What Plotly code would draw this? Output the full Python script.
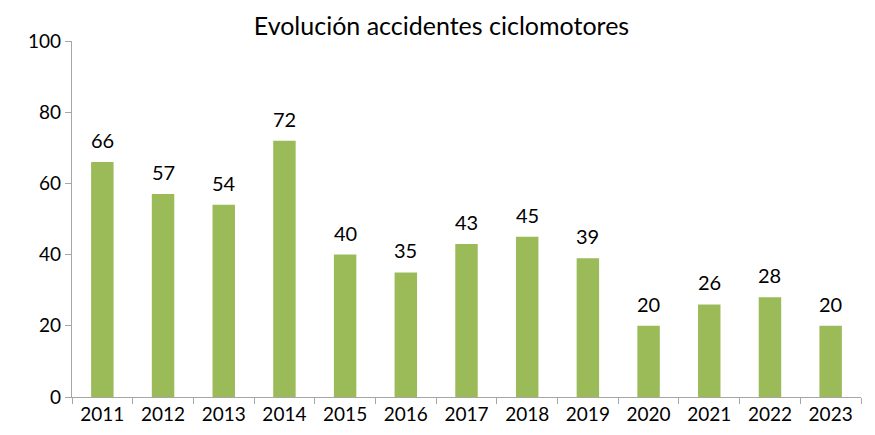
import plotly.graph_objects as go

years = ['2011', '2012', '2013', '2014', '2015', '2016', '2017',
         '2018', '2019', '2020', '2021', '2022', '2023']
accidentes = [66, 57, 54, 72, 40, 35, 43, 45, 39, 20, 26, 28, 20]
y_ticks = [0, 20, 40, 60, 80, 100]

fig = go.Figure(go.Bar(
    x=years, y=accidentes,
    marker=dict(color='#9BBB59', line=dict(width=0)),
    hoverinfo='x+y',
))

# value labels a bit above each bar (category axis -> annotation x is the category index)
for i, v in enumerate(accidentes):
    fig.add_annotation(x=i, y=v, text=str(v), showarrow=False,
                       yanchor='bottom', yshift=8,
                       font=dict(size=20, color='#000000'))

# page has an 8px body margin, so the figure is a bit smaller than the window
fig.update_layout(
    width=867, height=427,
    margin=dict(l=64, r=14, t=33, b=38),
    plot_bgcolor='white', paper_bgcolor='white',
    font=dict(family='Lato, Open Sans, sans-serif', color='#000000'),
    title=dict(text='Evolución accidentes ciclomotores', x=0.5, xanchor='center',
               y=0.978, yanchor='top', font=dict(size=25)),
    bargap=0.63,
    showlegend=False,
)
fig.update_xaxes(
    type='category', range=[-0.5, len(years) - 0.5],
    showline=True, linecolor='#A6A6A6', linewidth=1.2,
    ticks='outside', tickson='boundaries', ticklen=6, tickcolor='#A6A6A6',
    tickfont=dict(size=19), showgrid=False, automargin=False,
)
fig.update_yaxes(
    range=[0, 100], tickvals=y_ticks,
    showline=True, linecolor='#A6A6A6', linewidth=1.2,
    ticks='outside', ticklen=6, tickcolor='#A6A6A6',
    tickfont=dict(size=19), showgrid=False, zeroline=False, automargin=False,
)

fig.write_html('out.html')
